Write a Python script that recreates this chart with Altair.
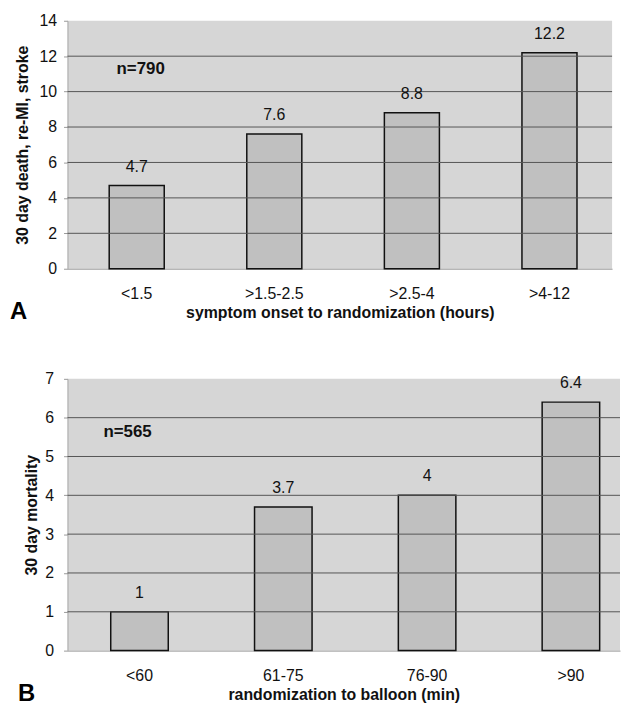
import altair as alt
import pandas as pd

A_cats = ["<1.5", ">1.5-2.5", ">2.5-4", ">4-12"]
A_vals = [4.7, 7.6, 8.8, 12.2]
A_grid = [2, 4, 6, 8, 10, 12]
B_cats = ["<60", "61-75", "76-90", ">90"]
B_vals = [1, 3.7, 4, 6.4]
B_grid = [1, 2, 3, 4, 5, 6]

FONT = "Liberation Sans"
FS = 16


def panel(cats, vals, grid, ymax, ystep, ytitle, xtitle, ntext, nval, letter,
          w, h, letter_x, letter_dy, n_dx, scale_kw, ylabpad, ytitlepad):
    df = pd.DataFrame({"cat": cats, "val": vals})
    gdf = pd.DataFrame({"g": grid})
    xaxis = alt.Axis(labelAngle=0, labelFontSize=FS, labelFont=FONT, labelColor="#111",
                     titleFont=FONT, titleFontSize=FS, titleFontWeight="bold", titleColor="#111",
                     titlePadding=3, labelPadding=17, ticks=False, domainColor="#999")
    yaxis = alt.Axis(values=list(range(0, ymax + 1, ystep)), grid=False, labelFontSize=FS,
                     labelFont=FONT, labelColor="#111", titleFont=FONT, titleFontSize=FS,
                     titleFontWeight="bold", titleColor="#111", titlePadding=ytitlepad,
                     tickSize=4, tickColor="#999", domainColor="#aaa", labelPadding=ylabpad,
                     labelOverlap=False)
    yscale = alt.Scale(domain=[0, ymax], nice=False)
    xscale = alt.Scale(**scale_kw)

    def X():
        return alt.X("cat:N", sort=cats, title=xtitle, scale=xscale, axis=xaxis)

    def Y(f):
        return alt.Y(f, title=ytitle, scale=yscale, axis=yaxis)

    bars = alt.Chart(df).mark_bar(fill="#c0c0c0", stroke="#111", strokeWidth=1.5).encode(
        x=X(), y=Y("val:Q"))
    rules = alt.Chart(gdf).mark_rule(color="#555", strokeWidth=1).encode(y=Y("g:Q"))
    labels = alt.Chart(df).mark_text(baseline="alphabetic", dy=-14, fontSize=FS, font=FONT,
                                     color="#111").encode(x=X(), y=Y("val:Q"), text="val:Q")
    ndf = pd.DataFrame({"cat": [cats[0]], "v": [nval], "t": [ntext]})
    ntxt = alt.Chart(ndf).mark_text(fontSize=17, fontWeight="bold", font=FONT, color="#111",
                                   dx=n_dx).encode(x=X(), y=Y("v:Q"), text="t:N")
    ldf = pd.DataFrame({"t": [letter]})
    let = alt.Chart(ldf).mark_text(fontSize=24, fontWeight="bold", font=FONT, color="#000",
                                   align="left", baseline="alphabetic").encode(
        x=alt.value(letter_x), y=alt.value(h + letter_dy), text="t:N")
    return alt.layer(bars, rules, labels, ntxt, let).properties(width=w, height=h)


A = panel(A_cats, A_vals, A_grid, 14, 2, "30 day death, re-MI, stroke",
          "symptom onset to randomization (hours)", "n=790", 11.27, "A",
          549, 250, -58, 51, 4, dict(paddingInner=0.6, paddingOuter=0.279, align=0.543), 7, 9)
B = panel(B_cats, B_vals, B_grid, 7, 1, "30 day mortality",
          "randomization to balloon (min)", "n=565", 5.62, "B",
          557, 274, -50, 51, -12, dict(paddingInner=0.6, paddingOuter=0.221, align=0.68), 10, 5)

chart = alt.concat(A, B, columns=1, spacing=47).properties(
    align="none",
    padding={"left": 2, "top": 2, "right": 0, "bottom": 0}
).configure_view(fill="#d6d6d6", stroke=None)

chart.save("out.html", embed_options={"renderer": "svg", "actions": False})
